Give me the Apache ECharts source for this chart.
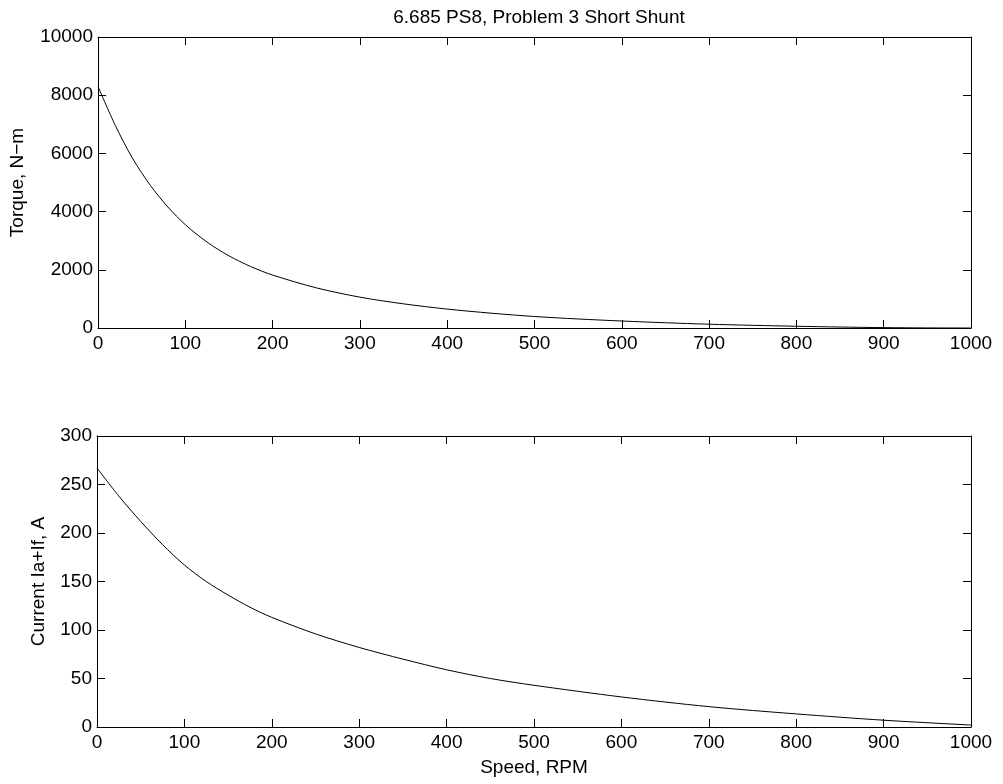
<!DOCTYPE html>
<html>
<head>
<meta charset="utf-8">
<script src="https://cdn.jsdelivr.net/npm/echarts@6/dist/echarts.min.js"></script>
<style>
html,body{margin:0;padding:0;background:#fff;}
#chart{width:1003px;height:784px;}
</style>
</head>
<body>
<div id="chart"></div>
<script>
// Top plot: torque vs speed
const speedTorque = [0,20,40,60,80,100,125,150,175,200,250,300,350,400,450,500,550,600,650,700,750,800,850,900,950,1000];
const torque = [8300,6950,5810,4900,4160,3550,2950,2480,2110,1820,1380,1060,830,650,510,395,310,240,180,130,92,60,33,13,3,0];
// Bottom plot: current vs speed
const speedCurrent = [0,25,50,75,100,125,150,175,200,250,300,350,400,450,500,600,700,800,900,1000];
const current = [267,238,212,188,167,150,136,123.5,113,96,82,70,59,50,43,31,21,13.5,7,2];

const titleText = '6.685 PS8, Problem 3 Short Shunt';
const torqueName = 'Torque, N\u2212m';
const currentName = 'Current Ia+If, A';
const speedName = 'Speed, RPM';

const FONT = '"Liberation Sans", Arial, Helvetica, sans-serif';
const FS = 19;

function pair(xs, ys){ return xs.map((x,i)=>[x, ys[i]]); }

const axLine = {show:true, onZero:false, lineStyle:{color:'#000', width:1}};
const tickIn = {show:true, inside:true, length:8, lineStyle:{color:'#000', width:1}};
const lbl = {color:'#000', fontSize:FS, fontFamily:FONT, formatter:(v)=>String(v)};

function xMain(grid, withName){
  return {type:'value', gridIndex:grid, min:0, max:1000, interval:100, position:'bottom',
    axisLine:axLine, axisTick:tickIn, splitLine:{show:false},
    axisLabel:Object.assign({margin:6}, lbl),
    name: withName ? speedName : '', nameLocation:'middle', nameGap:31,
    nameTextStyle:{color:'#000', fontSize:FS, fontFamily:FONT}};
}
function xTop(grid){
  return {type:'value', gridIndex:grid, min:0, max:1000, interval:100, position:'top',
    axisLine:axLine, axisTick:tickIn, splitLine:{show:false}, axisLabel:{show:false}};
}
function yMain(grid, max, interval, name, gap){
  return {type:'value', gridIndex:grid, min:0, max:max, interval:interval, position:'left',
    axisLine:axLine, axisTick:tickIn, splitLine:{show:false},
    axisLabel:Object.assign({margin:5}, lbl),
    name:name, nameLocation:'middle', nameGap:gap,
    nameTextStyle:{color:'#000', fontSize:FS, fontFamily:FONT}};
}
function yRight(grid, max, interval){
  return {type:'value', gridIndex:grid, min:0, max:max, interval:interval, position:'right',
    axisLine:axLine, axisTick:tickIn, splitLine:{show:false}, axisLabel:{show:false}};
}

const chart = echarts.init(document.getElementById('chart'), null, {renderer:'canvas'});
chart.setOption({
  animation:false,
  backgroundColor:'#fff',
  title:{text:titleText, left:534, top:3, textAlign:'center',
    textStyle:{color:'#000', fontSize:FS, fontWeight:'normal', fontFamily:FONT}},
  grid:[
    {left:97, width:874, top:37, height:291, containLabel:false},
    {left:97, width:874, top:436, height:291, containLabel:false}
  ],
  xAxis:[xMain(0,false), xTop(0), xMain(1,true), xTop(1)],
  yAxis:[yMain(0,10000,2000,torqueName,71), yRight(0,10000,2000),
         yMain(1,300,50,currentName,49), yRight(1,300,50)],
  series:[
    {type:'line', xAxisIndex:0, yAxisIndex:0, data:pair(speedTorque, torque),
     smooth:0.3, showSymbol:false, lineStyle:{color:'#000', width:1}},
    {type:'line', xAxisIndex:2, yAxisIndex:2, data:pair(speedCurrent, current),
     smooth:0.3, showSymbol:false, lineStyle:{color:'#000', width:1}}
  ]
});
</script>
</body>
</html>
